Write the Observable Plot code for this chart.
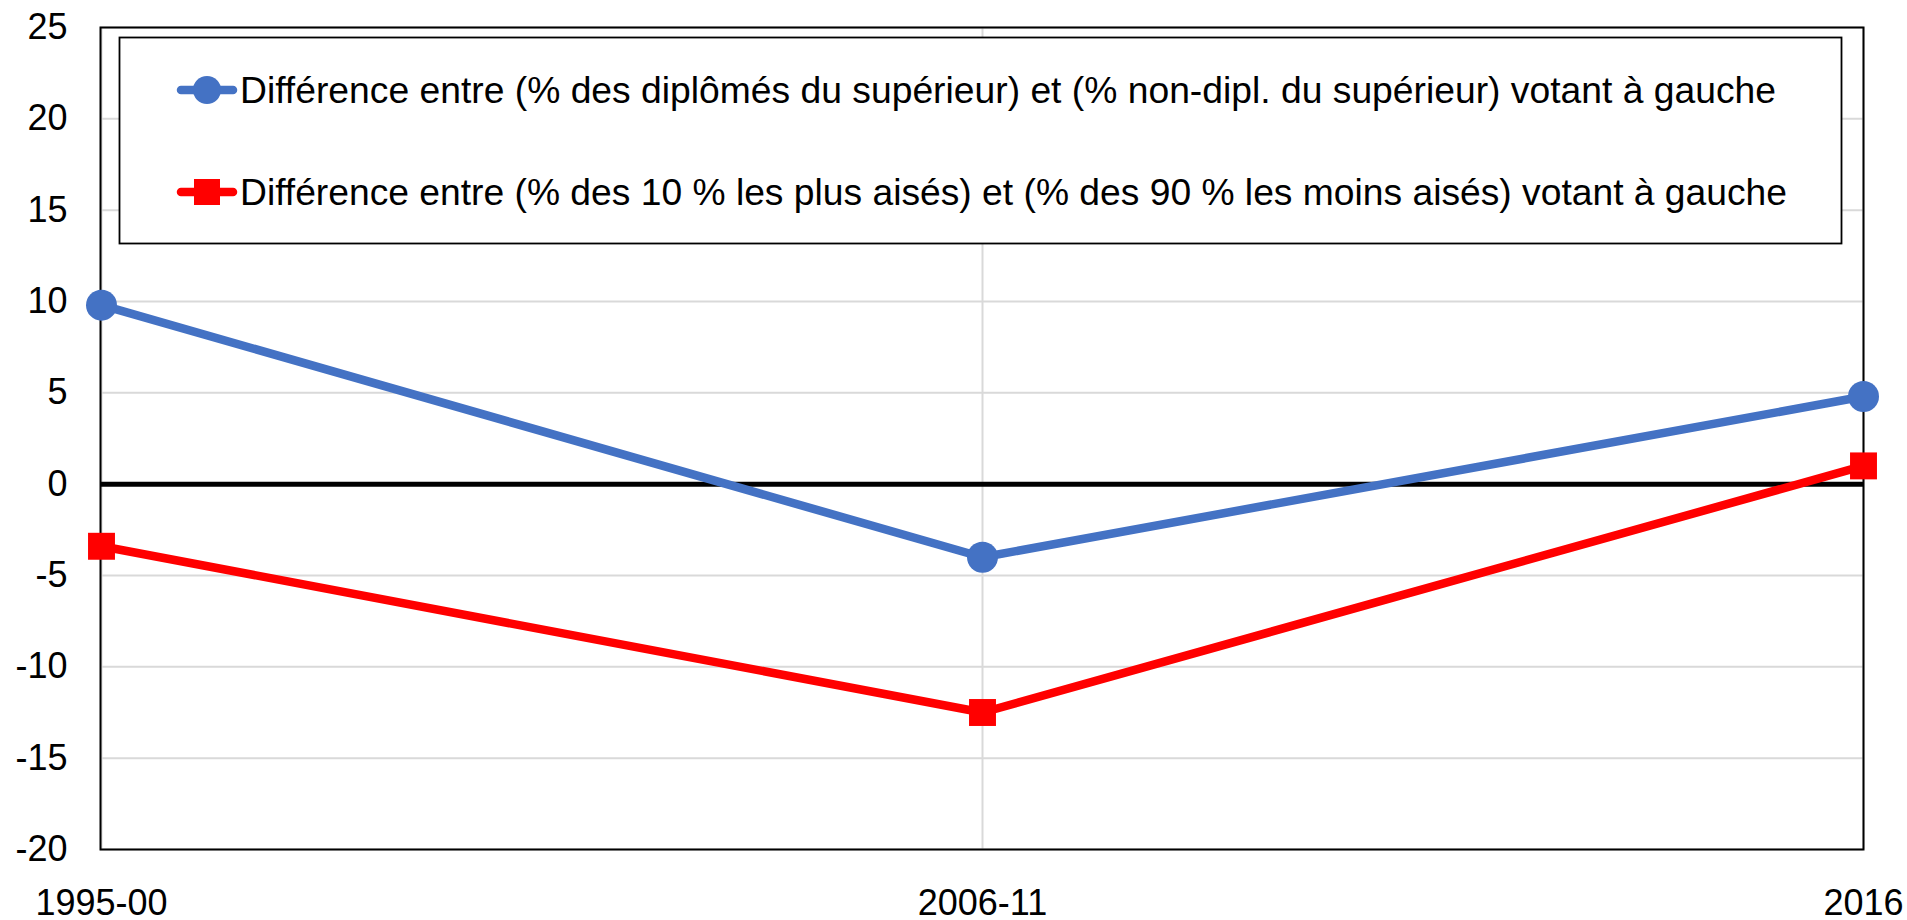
<!DOCTYPE html>
<html>
<head>
<meta charset="utf-8">
<script src="https://cdn.jsdelivr.net/npm/d3@7"></script>
<script src="https://cdn.jsdelivr.net/npm/@observablehq/plot@0.6"></script>
<style>
  html, body { margin: 0; padding: 0; background: #fff; }
  #chart svg { display: block; }
</style>
</head>
<body>
<div id="chart"></div>
<script>
const periods = ["1995-00", "2006-11", "2016"];
const diplomes = [9.8, -4.0, 4.8];
const riches = [-3.4, -12.5, 1.0];
const seriesNames = [
  "Différence entre (% des diplômés du supérieur) et (% non-dipl. du supérieur) votant à gauche",
  "Différence entre (% des 10 % les plus aisés) et (% des 90 % les moins aisés) votant à gauche"
];
const seriesColors = ["#4472C4", "#FF0000"];
const yTicks = [-20, -15, -10, -5, 0, 5, 10, 15, 20, 25];

const rowsA = periods.map((p, i) => ({period: p, value: diplomes[i], series: seriesNames[0]}));
const rowsB = periods.map((p, i) => ({period: p, value: riches[i], series: seriesNames[1]}));

const font = "'Liberation Sans', Arial, Helvetica, sans-serif";

const chart = Plot.plot({
  width: 1907,
  height: 920,
  marginLeft: 100,
  marginRight: 44,
  marginTop: 27,
  marginBottom: 71,
  style: {fontFamily: font, fontSize: "36px", color: "#000", background: "#fff", overflow: "visible"},
  x: {type: "point", domain: periods, padding: 0},
  y: {domain: [-20, 25]},
  marks: [
    Plot.gridY(yTicks, {stroke: "#D9D9D9", strokeOpacity: 1, strokeWidth: 2}),
    Plot.gridX(periods, {stroke: "#D9D9D9", strokeOpacity: 1, strokeWidth: 2}),
    Plot.frame({stroke: "#000", strokeWidth: 2}),
    Plot.ruleY([0], {stroke: "#000", strokeWidth: 5}),
    Plot.line(rowsA, {x: "period", y: "value", stroke: seriesColors[0], strokeWidth: 8.5}),
    Plot.line(rowsB, {x: "period", y: "value", stroke: seriesColors[1], strokeWidth: 8.5}),
    Plot.dot(rowsA, {x: "period", y: "value", fill: seriesColors[0], stroke: "none", r: 15.5, symbol: "circle"}),
    Plot.dot(rowsB, {x: "period", y: "value", fill: seriesColors[1], stroke: "none", r: 15.2, symbol: "square"}),
    Plot.axisY(yTicks, {tickSize: 0, tickPadding: 33, tickFormat: d => String(d), fontSize: 36, label: null}),
    Plot.axisX(periods, {tickSize: 0, tickPadding: 40, fontSize: 36, label: null})
  ]
});

document.getElementById("chart").appendChild(chart);

// Legend box inside the plot area (as in the original Excel chart)
const svg = d3.select(chart);
const lg = svg.append("g").attr("font-family", font).attr("text-anchor", "start");
lg.append("rect")
  .attr("x", 119.5).attr("y", 37.5).attr("width", 1722).attr("height", 206)
  .attr("fill", "#fff").attr("stroke", "#000").attr("stroke-width", 1.8);

const itemY = [90, 192];
const textLen = [1536, 1547];
seriesNames.forEach((name, i) => {
  const item = lg.append("g");
  item.append("line")
    .attr("x1", 181).attr("x2", 233).attr("y1", itemY[i]).attr("y2", itemY[i])
    .attr("stroke", seriesColors[i]).attr("stroke-width", 8.5).attr("stroke-linecap", "round");
  if (i === 0) {
    item.append("circle").attr("cx", 207).attr("cy", itemY[i]).attr("r", 14).attr("fill", seriesColors[i]);
  } else {
    item.append("rect").attr("x", 207 - 13).attr("y", itemY[i] - 13).attr("width", 26).attr("height", 26).attr("fill", seriesColors[i]);
  }
  item.append("text")
    .attr("x", 240).attr("y", itemY[i])
    .attr("dy", "0.36em")
    .attr("font-size", 37)
    .attr("fill", "#000")
    .attr("text-anchor", "start")
    .attr("textLength", textLen[i])
    .attr("lengthAdjust", "spacingAndGlyphs")
    .text(name);
});
</script>
</body>
</html>
